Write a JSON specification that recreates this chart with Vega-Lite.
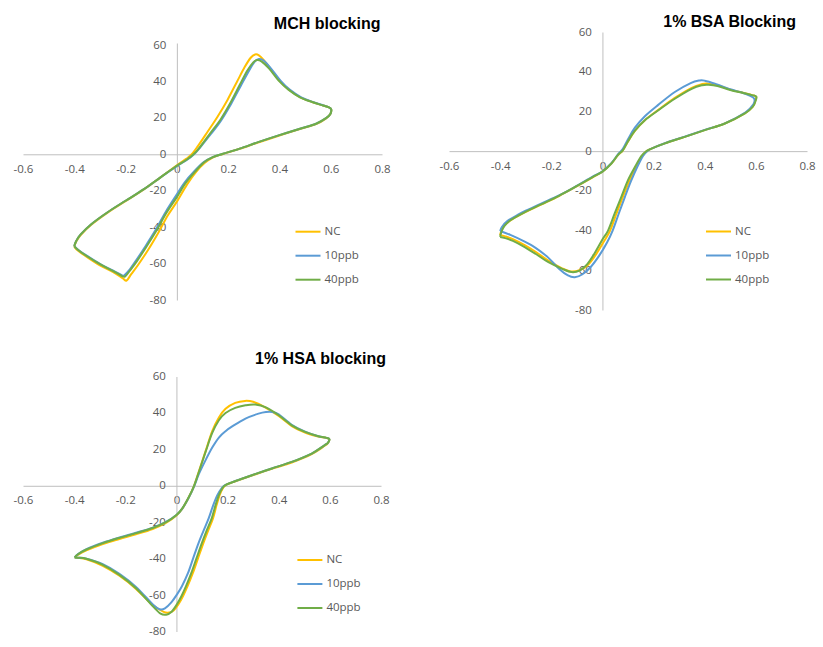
{
"$schema": "https://vega.github.io/schema/vega-lite/v6.json",
"background": "white",
"padding": {"left": 13, "top": 14, "right": 0, "bottom": 0},
"config": {
  "view": {"stroke": null},
  "axis": {"grid": false, "ticks": false, "tickSize": 0, "domainColor": "#bfbfbf", "domainWidth": 1, "labelColor": "#595959", "labelFont": "Open Sans", "labelFontSize": 11.5, "labelFlush": false, "labelOverlap": false, "labelBound": false},
  "legend": {"symbolType": "stroke", "symbolSize": 625, "symbolStrokeWidth": 2, "labelFont": "Open Sans", "labelFontSize": 11.5, "labelColor": "#595959", "labelOffset": 3, "padding": 0, "rowPadding": 5},
  "title": {"font": "Liberation Sans", "fontSize": 16, "fontWeight": "bold", "color": "#000000", "anchor": "end", "frame": "group"}
},
"datasets": {
"mch": [
{"s":"NC","k":0,"v":-0.4,"i":-50.8},{"s":"NC","k":1,"v":-0.392,"i":-47.8},{"s":"NC","k":2,"v":-0.375,"i":-44.3},{"s":"NC","k":3,"v":-0.335,"i":-38.8},{"s":"NC","k":4,"v":-0.27,"i":-32},{"s":"NC","k":5,"v":-0.2,"i":-25.7},{"s":"NC","k":6,"v":-0.13,"i":-19.4},{"s":"NC","k":7,"v":-0.065,"i":-12.8},{"s":"NC","k":8,"v":0,"i":-6},{"s":"NC","k":9,"v":0.036,"i":-2.5},{"s":"NC","k":10,"v":0.058,"i":0},{"s":"NC","k":11,"v":0.082,"i":4.5},{"s":"NC","k":12,"v":0.118,"i":12},{"s":"NC","k":13,"v":0.158,"i":20.5},{"s":"NC","k":14,"v":0.198,"i":30},{"s":"NC","k":15,"v":0.235,"i":40},{"s":"NC","k":16,"v":0.265,"i":48},{"s":"NC","k":17,"v":0.288,"i":53},{"s":"NC","k":18,"v":0.305,"i":54.8},{"s":"NC","k":19,"v":0.32,"i":54.3},{"s":"NC","k":20,"v":0.34,"i":51.5},{"s":"NC","k":21,"v":0.37,"i":46},{"s":"NC","k":22,"v":0.4,"i":40.5},{"s":"NC","k":23,"v":0.435,"i":35.7},{"s":"NC","k":24,"v":0.48,"i":31.4},{"s":"NC","k":25,"v":0.53,"i":28.6},{"s":"NC","k":26,"v":0.57,"i":26.8},{"s":"NC","k":27,"v":0.592,"i":25.8},{"s":"NC","k":28,"v":0.602,"i":24.6},{"s":"NC","k":29,"v":0.598,"i":22},{"s":"NC","k":30,"v":0.583,"i":19.8},{"s":"NC","k":31,"v":0.545,"i":16.7},{"s":"NC","k":32,"v":0.48,"i":13.8},{"s":"NC","k":33,"v":0.4,"i":10.3},{"s":"NC","k":34,"v":0.32,"i":6.6},{"s":"NC","k":35,"v":0.245,"i":3},{"s":"NC","k":36,"v":0.18,"i":0.2},{"s":"NC","k":37,"v":0.14,"i":-1.8},{"s":"NC","k":38,"v":0.108,"i":-4.8},{"s":"NC","k":39,"v":0.076,"i":-9.5},{"s":"NC","k":40,"v":0.04,"i":-16.5},{"s":"NC","k":41,"v":0,"i":-26},{"s":"NC","k":42,"v":-0.035,"i":-33.5},{"s":"NC","k":43,"v":-0.07,"i":-42.5},{"s":"NC","k":44,"v":-0.11,"i":-52},{"s":"NC","k":45,"v":-0.15,"i":-60.5},{"s":"NC","k":46,"v":-0.178,"i":-65.8},{"s":"NC","k":47,"v":-0.196,"i":-69.3},{"s":"NC","k":48,"v":-0.212,"i":-68},{"s":"NC","k":49,"v":-0.25,"i":-64.5},{"s":"NC","k":50,"v":-0.3,"i":-61},{"s":"NC","k":51,"v":-0.35,"i":-56.5},{"s":"NC","k":52,"v":-0.385,"i":-53},{"s":"NC","k":53,"v":-0.4,"i":-50.8},
{"s":"10ppb","k":0,"v":-0.4,"i":-50.4},{"s":"10ppb","k":1,"v":-0.392,"i":-47.5},{"s":"10ppb","k":2,"v":-0.375,"i":-44},{"s":"10ppb","k":3,"v":-0.335,"i":-38.5},{"s":"10ppb","k":4,"v":-0.27,"i":-31.8},{"s":"10ppb","k":5,"v":-0.2,"i":-25.5},{"s":"10ppb","k":6,"v":-0.13,"i":-19.3},{"s":"10ppb","k":7,"v":-0.065,"i":-12.8},{"s":"10ppb","k":8,"v":0,"i":-6.5},{"s":"10ppb","k":9,"v":0.04,"i":-3},{"s":"10ppb","k":10,"v":0.067,"i":0},{"s":"10ppb","k":11,"v":0.092,"i":4},{"s":"10ppb","k":12,"v":0.132,"i":11},{"s":"10ppb","k":13,"v":0.172,"i":18.5},{"s":"10ppb","k":14,"v":0.212,"i":27.8},{"s":"10ppb","k":15,"v":0.25,"i":37.8},{"s":"10ppb","k":16,"v":0.282,"i":46},{"s":"10ppb","k":17,"v":0.303,"i":50.8},{"s":"10ppb","k":18,"v":0.32,"i":52.3},{"s":"10ppb","k":19,"v":0.337,"i":51.6},{"s":"10ppb","k":20,"v":0.365,"i":47.5},{"s":"10ppb","k":21,"v":0.405,"i":40.3},{"s":"10ppb","k":22,"v":0.44,"i":35.5},{"s":"10ppb","k":23,"v":0.485,"i":31.3},{"s":"10ppb","k":24,"v":0.533,"i":28.6},{"s":"10ppb","k":25,"v":0.572,"i":26.8},{"s":"10ppb","k":26,"v":0.593,"i":25.8},{"s":"10ppb","k":27,"v":0.602,"i":24.6},{"s":"10ppb","k":28,"v":0.598,"i":22},{"s":"10ppb","k":29,"v":0.583,"i":20},{"s":"10ppb","k":30,"v":0.545,"i":16.9},{"s":"10ppb","k":31,"v":0.48,"i":14},{"s":"10ppb","k":32,"v":0.4,"i":10.5},{"s":"10ppb","k":33,"v":0.32,"i":6.8},{"s":"10ppb","k":34,"v":0.245,"i":3.1},{"s":"10ppb","k":35,"v":0.18,"i":0.3},{"s":"10ppb","k":36,"v":0.14,"i":-1.6},{"s":"10ppb","k":37,"v":0.105,"i":-4.3},{"s":"10ppb","k":38,"v":0.068,"i":-9.3},{"s":"10ppb","k":39,"v":0.03,"i":-15.5},{"s":"10ppb","k":40,"v":0,"i":-22},{"s":"10ppb","k":41,"v":-0.043,"i":-31.5},{"s":"10ppb","k":42,"v":-0.085,"i":-42},{"s":"10ppb","k":43,"v":-0.125,"i":-51},{"s":"10ppb","k":44,"v":-0.16,"i":-58.5},{"s":"10ppb","k":45,"v":-0.185,"i":-63.5},{"s":"10ppb","k":46,"v":-0.205,"i":-66.4},{"s":"10ppb","k":47,"v":-0.215,"i":-66.4},{"s":"10ppb","k":48,"v":-0.25,"i":-63.8},{"s":"10ppb","k":49,"v":-0.3,"i":-60.2},{"s":"10ppb","k":50,"v":-0.35,"i":-55.8},{"s":"10ppb","k":51,"v":-0.385,"i":-52.4},{"s":"10ppb","k":52,"v":-0.4,"i":-50.4},
{"s":"40ppb","k":0,"v":-0.4,"i":-50.4},{"s":"40ppb","k":1,"v":-0.392,"i":-47.5},{"s":"40ppb","k":2,"v":-0.375,"i":-44},{"s":"40ppb","k":3,"v":-0.335,"i":-38.5},{"s":"40ppb","k":4,"v":-0.27,"i":-31.8},{"s":"40ppb","k":5,"v":-0.2,"i":-25.5},{"s":"40ppb","k":6,"v":-0.13,"i":-19.3},{"s":"40ppb","k":7,"v":-0.065,"i":-12.8},{"s":"40ppb","k":8,"v":0,"i":-6.3},{"s":"40ppb","k":9,"v":0.038,"i":-3},{"s":"40ppb","k":10,"v":0.065,"i":0},{"s":"40ppb","k":11,"v":0.09,"i":4},{"s":"40ppb","k":12,"v":0.13,"i":11.5},{"s":"40ppb","k":13,"v":0.17,"i":19},{"s":"40ppb","k":14,"v":0.208,"i":28},{"s":"40ppb","k":15,"v":0.245,"i":38},{"s":"40ppb","k":16,"v":0.275,"i":46},{"s":"40ppb","k":17,"v":0.298,"i":50.5},{"s":"40ppb","k":18,"v":0.313,"i":51.8},{"s":"40ppb","k":19,"v":0.33,"i":51},{"s":"40ppb","k":20,"v":0.36,"i":47},{"s":"40ppb","k":21,"v":0.4,"i":40},{"s":"40ppb","k":22,"v":0.435,"i":35.5},{"s":"40ppb","k":23,"v":0.48,"i":31.3},{"s":"40ppb","k":24,"v":0.53,"i":28.6},{"s":"40ppb","k":25,"v":0.57,"i":26.8},{"s":"40ppb","k":26,"v":0.592,"i":25.8},{"s":"40ppb","k":27,"v":0.602,"i":24.6},{"s":"40ppb","k":28,"v":0.598,"i":22},{"s":"40ppb","k":29,"v":0.583,"i":20},{"s":"40ppb","k":30,"v":0.545,"i":16.9},{"s":"40ppb","k":31,"v":0.48,"i":14},{"s":"40ppb","k":32,"v":0.4,"i":10.5},{"s":"40ppb","k":33,"v":0.32,"i":6.8},{"s":"40ppb","k":34,"v":0.245,"i":3.1},{"s":"40ppb","k":35,"v":0.18,"i":0.3},{"s":"40ppb","k":36,"v":0.14,"i":-1.6},{"s":"40ppb","k":37,"v":0.105,"i":-4.5},{"s":"40ppb","k":38,"v":0.07,"i":-9.7},{"s":"40ppb","k":39,"v":0.033,"i":-16},{"s":"40ppb","k":40,"v":0,"i":-23.5},{"s":"40ppb","k":41,"v":-0.04,"i":-32},{"s":"40ppb","k":42,"v":-0.08,"i":-42},{"s":"40ppb","k":43,"v":-0.12,"i":-51},{"s":"40ppb","k":44,"v":-0.155,"i":-58.5},{"s":"40ppb","k":45,"v":-0.18,"i":-63.3},{"s":"40ppb","k":46,"v":-0.2,"i":-66.8},{"s":"40ppb","k":47,"v":-0.212,"i":-67},{"s":"40ppb","k":48,"v":-0.25,"i":-64},{"s":"40ppb","k":49,"v":-0.3,"i":-60.3},{"s":"40ppb","k":50,"v":-0.35,"i":-56},{"s":"40ppb","k":51,"v":-0.385,"i":-52.5},{"s":"40ppb","k":52,"v":-0.4,"i":-50.4}
],
"bsa": [
{"s":"NC","k":0,"v":-0.4,"i":-42.3},{"s":"NC","k":1,"v":-0.395,"i":-40},{"s":"NC","k":2,"v":-0.382,"i":-37.2},{"s":"NC","k":3,"v":-0.355,"i":-34.5},{"s":"NC","k":4,"v":-0.3,"i":-30.6},{"s":"NC","k":5,"v":-0.24,"i":-26.9},{"s":"NC","k":6,"v":-0.17,"i":-22.6},{"s":"NC","k":7,"v":-0.11,"i":-18.4},{"s":"NC","k":8,"v":-0.04,"i":-13.3},{"s":"NC","k":9,"v":0,"i":-10.4},{"s":"NC","k":10,"v":0.035,"i":-6.3},{"s":"NC","k":11,"v":0.06,"i":-2.1},{"s":"NC","k":12,"v":0.08,"i":0.4},{"s":"NC","k":13,"v":0.1,"i":4.9},{"s":"NC","k":14,"v":0.127,"i":10.2},{"s":"NC","k":15,"v":0.166,"i":15.6},{"s":"NC","k":16,"v":0.22,"i":20.9},{"s":"NC","k":17,"v":0.283,"i":26.8},{"s":"NC","k":18,"v":0.349,"i":31.9},{"s":"NC","k":19,"v":0.39,"i":33.8},{"s":"NC","k":20,"v":0.412,"i":34},{"s":"NC","k":21,"v":0.45,"i":33.2},{"s":"NC","k":22,"v":0.5,"i":31},{"s":"NC","k":23,"v":0.55,"i":29.4},{"s":"NC","k":24,"v":0.585,"i":28.2},{"s":"NC","k":25,"v":0.601,"i":27.4},{"s":"NC","k":26,"v":0.597,"i":25},{"s":"NC","k":27,"v":0.588,"i":22.4},{"s":"NC","k":28,"v":0.557,"i":19},{"s":"NC","k":29,"v":0.479,"i":13.9},{"s":"NC","k":30,"v":0.4,"i":10.6},{"s":"NC","k":31,"v":0.322,"i":7.2},{"s":"NC","k":32,"v":0.244,"i":3.9},{"s":"NC","k":33,"v":0.192,"i":1.3},{"s":"NC","k":34,"v":0.173,"i":0},{"s":"NC","k":35,"v":0.155,"i":-2.5},{"s":"NC","k":36,"v":0.132,"i":-8},{"s":"NC","k":37,"v":0.106,"i":-14.8},{"s":"NC","k":38,"v":0.08,"i":-23},{"s":"NC","k":39,"v":0.055,"i":-31.4},{"s":"NC","k":40,"v":0.03,"i":-40},{"s":"NC","k":41,"v":0.008,"i":-45},{"s":"NC","k":42,"v":-0.025,"i":-52},{"s":"NC","k":43,"v":-0.058,"i":-57.5},{"s":"NC","k":44,"v":-0.09,"i":-60},{"s":"NC","k":45,"v":-0.125,"i":-60.6},{"s":"NC","k":46,"v":-0.158,"i":-59},{"s":"NC","k":47,"v":-0.213,"i":-55},{"s":"NC","k":48,"v":-0.26,"i":-50.8},{"s":"NC","k":49,"v":-0.304,"i":-47.3},{"s":"NC","k":50,"v":-0.35,"i":-44.3},{"s":"NC","k":51,"v":-0.38,"i":-42.9},{"s":"NC","k":52,"v":-0.4,"i":-42.3},
{"s":"10ppb","k":0,"v":-0.4,"i":-40.2},{"s":"10ppb","k":1,"v":-0.392,"i":-38},{"s":"10ppb","k":2,"v":-0.372,"i":-35.2},{"s":"10ppb","k":3,"v":-0.33,"i":-32},{"s":"10ppb","k":4,"v":-0.3,"i":-30},{"s":"10ppb","k":5,"v":-0.24,"i":-26.4},{"s":"10ppb","k":6,"v":-0.17,"i":-22.3},{"s":"10ppb","k":7,"v":-0.11,"i":-18.2},{"s":"10ppb","k":8,"v":-0.04,"i":-13},{"s":"10ppb","k":9,"v":0,"i":-10.2},{"s":"10ppb","k":10,"v":0.035,"i":-6},{"s":"10ppb","k":11,"v":0.06,"i":-1.8},{"s":"10ppb","k":12,"v":0.08,"i":1.2},{"s":"10ppb","k":13,"v":0.1,"i":6},{"s":"10ppb","k":14,"v":0.127,"i":11.8},{"s":"10ppb","k":15,"v":0.166,"i":17.6},{"s":"10ppb","k":16,"v":0.218,"i":23.3},{"s":"10ppb","k":17,"v":0.283,"i":29.8},{"s":"10ppb","k":18,"v":0.345,"i":34.3},{"s":"10ppb","k":19,"v":0.38,"i":35.6},{"s":"10ppb","k":20,"v":0.4,"i":35.5},{"s":"10ppb","k":21,"v":0.44,"i":34},{"s":"10ppb","k":22,"v":0.5,"i":31.2},{"s":"10ppb","k":23,"v":0.545,"i":29.5},{"s":"10ppb","k":24,"v":0.578,"i":27.8},{"s":"10ppb","k":25,"v":0.594,"i":26.3},{"s":"10ppb","k":26,"v":0.59,"i":23.5},{"s":"10ppb","k":27,"v":0.56,"i":19.6},{"s":"10ppb","k":28,"v":0.479,"i":14},{"s":"10ppb","k":29,"v":0.4,"i":10.7},{"s":"10ppb","k":30,"v":0.322,"i":7.3},{"s":"10ppb","k":31,"v":0.244,"i":4},{"s":"10ppb","k":32,"v":0.194,"i":1.4},{"s":"10ppb","k":33,"v":0.175,"i":0},{"s":"10ppb","k":34,"v":0.158,"i":-2.5},{"s":"10ppb","k":35,"v":0.136,"i":-8},{"s":"10ppb","k":36,"v":0.112,"i":-15},{"s":"10ppb","k":37,"v":0.088,"i":-23},{"s":"10ppb","k":38,"v":0.064,"i":-31.4},{"s":"10ppb","k":39,"v":0.04,"i":-40},{"s":"10ppb","k":40,"v":0.018,"i":-46},{"s":"10ppb","k":41,"v":-0.012,"i":-52.5},{"s":"10ppb","k":42,"v":-0.045,"i":-58.2},{"s":"10ppb","k":43,"v":-0.078,"i":-62},{"s":"10ppb","k":44,"v":-0.108,"i":-63.5},{"s":"10ppb","k":45,"v":-0.135,"i":-62.6},{"s":"10ppb","k":46,"v":-0.17,"i":-59.2},{"s":"10ppb","k":47,"v":-0.213,"i":-53.5},{"s":"10ppb","k":48,"v":-0.26,"i":-48.8},{"s":"10ppb","k":49,"v":-0.31,"i":-45.2},{"s":"10ppb","k":50,"v":-0.36,"i":-42.2},{"s":"10ppb","k":51,"v":-0.4,"i":-40.2},
{"s":"40ppb","k":0,"v":-0.4,"i":-43.2},{"s":"40ppb","k":1,"v":-0.396,"i":-41},{"s":"40ppb","k":2,"v":-0.385,"i":-38},{"s":"40ppb","k":3,"v":-0.36,"i":-34.8},{"s":"40ppb","k":4,"v":-0.3,"i":-30.5},{"s":"40ppb","k":5,"v":-0.24,"i":-26.8},{"s":"40ppb","k":6,"v":-0.17,"i":-22.5},{"s":"40ppb","k":7,"v":-0.11,"i":-18.3},{"s":"40ppb","k":8,"v":-0.04,"i":-13.2},{"s":"40ppb","k":9,"v":0,"i":-10.3},{"s":"40ppb","k":10,"v":0.035,"i":-6.2},{"s":"40ppb","k":11,"v":0.06,"i":-2},{"s":"40ppb","k":12,"v":0.08,"i":0.5},{"s":"40ppb","k":13,"v":0.1,"i":5},{"s":"40ppb","k":14,"v":0.127,"i":10.3},{"s":"40ppb","k":15,"v":0.166,"i":15.6},{"s":"40ppb","k":16,"v":0.22,"i":20.7},{"s":"40ppb","k":17,"v":0.283,"i":26.4},{"s":"40ppb","k":18,"v":0.349,"i":31.4},{"s":"40ppb","k":19,"v":0.39,"i":33.2},{"s":"40ppb","k":20,"v":0.415,"i":33.4},{"s":"40ppb","k":21,"v":0.45,"i":32.8},{"s":"40ppb","k":22,"v":0.5,"i":30.8},{"s":"40ppb","k":23,"v":0.55,"i":29.3},{"s":"40ppb","k":24,"v":0.585,"i":28.2},{"s":"40ppb","k":25,"v":0.602,"i":27.4},{"s":"40ppb","k":26,"v":0.598,"i":25},{"s":"40ppb","k":27,"v":0.588,"i":22.4},{"s":"40ppb","k":28,"v":0.557,"i":19},{"s":"40ppb","k":29,"v":0.479,"i":13.9},{"s":"40ppb","k":30,"v":0.4,"i":10.6},{"s":"40ppb","k":31,"v":0.322,"i":7.2},{"s":"40ppb","k":32,"v":0.244,"i":3.9},{"s":"40ppb","k":33,"v":0.192,"i":1.3},{"s":"40ppb","k":34,"v":0.172,"i":0},{"s":"40ppb","k":35,"v":0.152,"i":-2.5},{"s":"40ppb","k":36,"v":0.127,"i":-8},{"s":"40ppb","k":37,"v":0.1,"i":-14.6},{"s":"40ppb","k":38,"v":0.074,"i":-23},{"s":"40ppb","k":39,"v":0.048,"i":-31.4},{"s":"40ppb","k":40,"v":0.022,"i":-40},{"s":"40ppb","k":41,"v":0,"i":-44.5},{"s":"40ppb","k":42,"v":-0.031,"i":-51.5},{"s":"40ppb","k":43,"v":-0.06,"i":-57},{"s":"40ppb","k":44,"v":-0.09,"i":-60.2},{"s":"40ppb","k":45,"v":-0.121,"i":-60.9},{"s":"40ppb","k":46,"v":-0.155,"i":-59.4},{"s":"40ppb","k":47,"v":-0.213,"i":-55.8},{"s":"40ppb","k":48,"v":-0.26,"i":-51.8},{"s":"40ppb","k":49,"v":-0.304,"i":-48.3},{"s":"40ppb","k":50,"v":-0.35,"i":-45.2},{"s":"40ppb","k":51,"v":-0.38,"i":-43.8},{"s":"40ppb","k":52,"v":-0.4,"i":-43.2}
],
"hsa": [
{"s":"NC","k":0,"v":-0.398,"i":-39.4},{"s":"NC","k":1,"v":-0.385,"i":-37.9},{"s":"NC","k":2,"v":-0.352,"i":-35.5},{"s":"NC","k":3,"v":-0.288,"i":-32},{"s":"NC","k":4,"v":-0.223,"i":-29.2},{"s":"NC","k":5,"v":-0.158,"i":-26.6},{"s":"NC","k":6,"v":-0.093,"i":-23.7},{"s":"NC","k":7,"v":-0.041,"i":-20.4},{"s":"NC","k":8,"v":0,"i":-16.3},{"s":"NC","k":9,"v":0.023,"i":-12.6},{"s":"NC","k":10,"v":0.049,"i":-6.2},{"s":"NC","k":11,"v":0.069,"i":0},{"s":"NC","k":12,"v":0.088,"i":8},{"s":"NC","k":13,"v":0.114,"i":19},{"s":"NC","k":14,"v":0.14,"i":30},{"s":"NC","k":15,"v":0.166,"i":37.5},{"s":"NC","k":16,"v":0.192,"i":42.3},{"s":"NC","k":17,"v":0.23,"i":45.5},{"s":"NC","k":18,"v":0.268,"i":46.6},{"s":"NC","k":19,"v":0.3,"i":46.1},{"s":"NC","k":20,"v":0.34,"i":43.6},{"s":"NC","k":21,"v":0.4,"i":38.3},{"s":"NC","k":22,"v":0.451,"i":32.8},{"s":"NC","k":23,"v":0.503,"i":29.2},{"s":"NC","k":24,"v":0.555,"i":27},{"s":"NC","k":25,"v":0.587,"i":26.2},{"s":"NC","k":26,"v":0.598,"i":25.5},{"s":"NC","k":27,"v":0.592,"i":23.3},{"s":"NC","k":28,"v":0.58,"i":22},{"s":"NC","k":29,"v":0.529,"i":17.4},{"s":"NC","k":30,"v":0.451,"i":12.8},{"s":"NC","k":31,"v":0.373,"i":9.3},{"s":"NC","k":32,"v":0.295,"i":5.6},{"s":"NC","k":33,"v":0.231,"i":2.5},{"s":"NC","k":34,"v":0.193,"i":0.4},{"s":"NC","k":35,"v":0.181,"i":-1.5},{"s":"NC","k":36,"v":0.169,"i":-5.1},{"s":"NC","k":37,"v":0.157,"i":-10.6},{"s":"NC","k":38,"v":0.143,"i":-17.9},{"s":"NC","k":39,"v":0.123,"i":-25},{"s":"NC","k":40,"v":0.104,"i":-32},{"s":"NC","k":41,"v":0.084,"i":-40},{"s":"NC","k":42,"v":0.064,"i":-48},{"s":"NC","k":43,"v":0.044,"i":-55},{"s":"NC","k":44,"v":0.026,"i":-60.5},{"s":"NC","k":45,"v":0.008,"i":-65},{"s":"NC","k":46,"v":-0.01,"i":-68.3},{"s":"NC","k":47,"v":-0.028,"i":-69.6},{"s":"NC","k":48,"v":-0.05,"i":-69.2},{"s":"NC","k":49,"v":-0.093,"i":-65.5},{"s":"NC","k":50,"v":-0.158,"i":-56.6},{"s":"NC","k":51,"v":-0.223,"i":-49.4},{"s":"NC","k":52,"v":-0.288,"i":-43.9},{"s":"NC","k":53,"v":-0.352,"i":-40.4},{"s":"NC","k":54,"v":-0.385,"i":-39.6},{"s":"NC","k":55,"v":-0.398,"i":-39.4},
{"s":"10ppb","k":0,"v":-0.398,"i":-39.4},{"s":"10ppb","k":1,"v":-0.385,"i":-37.5},{"s":"10ppb","k":2,"v":-0.352,"i":-34.8},{"s":"10ppb","k":3,"v":-0.288,"i":-31.3},{"s":"10ppb","k":4,"v":-0.223,"i":-28.4},{"s":"10ppb","k":5,"v":-0.158,"i":-25.8},{"s":"10ppb","k":6,"v":-0.093,"i":-23},{"s":"10ppb","k":7,"v":-0.041,"i":-19.8},{"s":"10ppb","k":8,"v":0,"i":-16},{"s":"10ppb","k":9,"v":0.023,"i":-12.5},{"s":"10ppb","k":10,"v":0.049,"i":-6.3},{"s":"10ppb","k":11,"v":0.07,"i":0},{"s":"10ppb","k":12,"v":0.088,"i":6.5},{"s":"10ppb","k":13,"v":0.114,"i":14.1},{"s":"10ppb","k":14,"v":0.14,"i":21},{"s":"10ppb","k":15,"v":0.166,"i":26.5},{"s":"10ppb","k":16,"v":0.192,"i":30},{"s":"10ppb","k":17,"v":0.218,"i":32.6},{"s":"10ppb","k":18,"v":0.27,"i":36.9},{"s":"10ppb","k":19,"v":0.321,"i":39.6},{"s":"10ppb","k":20,"v":0.35,"i":40.5},{"s":"10ppb","k":21,"v":0.375,"i":40.5},{"s":"10ppb","k":22,"v":0.4,"i":39.2},{"s":"10ppb","k":23,"v":0.451,"i":33.5},{"s":"10ppb","k":24,"v":0.503,"i":29.7},{"s":"10ppb","k":25,"v":0.555,"i":27.2},{"s":"10ppb","k":26,"v":0.587,"i":26.3},{"s":"10ppb","k":27,"v":0.598,"i":25.5},{"s":"10ppb","k":28,"v":0.592,"i":23.5},{"s":"10ppb","k":29,"v":0.58,"i":22.3},{"s":"10ppb","k":30,"v":0.529,"i":17.7},{"s":"10ppb","k":31,"v":0.451,"i":13.1},{"s":"10ppb","k":32,"v":0.373,"i":9.5},{"s":"10ppb","k":33,"v":0.295,"i":5.8},{"s":"10ppb","k":34,"v":0.231,"i":2.6},{"s":"10ppb","k":35,"v":0.19,"i":0.4},{"s":"10ppb","k":36,"v":0.176,"i":-1.5},{"s":"10ppb","k":37,"v":0.16,"i":-5.1},{"s":"10ppb","k":38,"v":0.144,"i":-10.6},{"s":"10ppb","k":39,"v":0.126,"i":-17.9},{"s":"10ppb","k":40,"v":0.105,"i":-25},{"s":"10ppb","k":41,"v":0.085,"i":-32},{"s":"10ppb","k":42,"v":0.065,"i":-40},{"s":"10ppb","k":43,"v":0.045,"i":-48},{"s":"10ppb","k":44,"v":0.022,"i":-55},{"s":"10ppb","k":45,"v":0.003,"i":-59.5},{"s":"10ppb","k":46,"v":-0.02,"i":-64},{"s":"10ppb","k":47,"v":-0.045,"i":-67.3},{"s":"10ppb","k":48,"v":-0.065,"i":-67.8},{"s":"10ppb","k":49,"v":-0.09,"i":-65.5},{"s":"10ppb","k":50,"v":-0.158,"i":-55.5},{"s":"10ppb","k":51,"v":-0.223,"i":-48.3},{"s":"10ppb","k":52,"v":-0.288,"i":-43},{"s":"10ppb","k":53,"v":-0.352,"i":-40},{"s":"10ppb","k":54,"v":-0.385,"i":-39.5},{"s":"10ppb","k":55,"v":-0.398,"i":-39.4},
{"s":"40ppb","k":0,"v":-0.398,"i":-39.4},{"s":"40ppb","k":1,"v":-0.385,"i":-37.6},{"s":"40ppb","k":2,"v":-0.352,"i":-35},{"s":"40ppb","k":3,"v":-0.288,"i":-31.5},{"s":"40ppb","k":4,"v":-0.223,"i":-28.6},{"s":"40ppb","k":5,"v":-0.158,"i":-26},{"s":"40ppb","k":6,"v":-0.093,"i":-23.2},{"s":"40ppb","k":7,"v":-0.041,"i":-20},{"s":"40ppb","k":8,"v":0,"i":-16},{"s":"40ppb","k":9,"v":0.023,"i":-12.4},{"s":"40ppb","k":10,"v":0.049,"i":-6},{"s":"40ppb","k":11,"v":0.069,"i":0},{"s":"40ppb","k":12,"v":0.088,"i":7.7},{"s":"40ppb","k":13,"v":0.114,"i":18.6},{"s":"40ppb","k":14,"v":0.14,"i":29},{"s":"40ppb","k":15,"v":0.166,"i":36},{"s":"40ppb","k":16,"v":0.192,"i":40},{"s":"40ppb","k":17,"v":0.23,"i":42.8},{"s":"40ppb","k":18,"v":0.27,"i":44.2},{"s":"40ppb","k":19,"v":0.308,"i":44.6},{"s":"40ppb","k":20,"v":0.35,"i":43},{"s":"40ppb","k":21,"v":0.4,"i":38.7},{"s":"40ppb","k":22,"v":0.451,"i":33.2},{"s":"40ppb","k":23,"v":0.503,"i":29.6},{"s":"40ppb","k":24,"v":0.555,"i":27.2},{"s":"40ppb","k":25,"v":0.587,"i":26.3},{"s":"40ppb","k":26,"v":0.598,"i":25.5},{"s":"40ppb","k":27,"v":0.592,"i":23.5},{"s":"40ppb","k":28,"v":0.58,"i":22.3},{"s":"40ppb","k":29,"v":0.529,"i":17.7},{"s":"40ppb","k":30,"v":0.451,"i":13.1},{"s":"40ppb","k":31,"v":0.373,"i":9.5},{"s":"40ppb","k":32,"v":0.295,"i":5.8},{"s":"40ppb","k":33,"v":0.231,"i":2.6},{"s":"40ppb","k":34,"v":0.192,"i":0.4},{"s":"40ppb","k":35,"v":0.179,"i":-1.5},{"s":"40ppb","k":36,"v":0.166,"i":-5.1},{"s":"40ppb","k":37,"v":0.153,"i":-10.6},{"s":"40ppb","k":38,"v":0.138,"i":-17.9},{"s":"40ppb","k":39,"v":0.117,"i":-25},{"s":"40ppb","k":40,"v":0.098,"i":-32},{"s":"40ppb","k":41,"v":0.078,"i":-40},{"s":"40ppb","k":42,"v":0.058,"i":-48},{"s":"40ppb","k":43,"v":0.038,"i":-55},{"s":"40ppb","k":44,"v":0.02,"i":-60.5},{"s":"40ppb","k":45,"v":0,"i":-65.5},{"s":"40ppb","k":46,"v":-0.02,"i":-69.3},{"s":"40ppb","k":47,"v":-0.04,"i":-70.8},{"s":"40ppb","k":48,"v":-0.062,"i":-70.2},{"s":"40ppb","k":49,"v":-0.093,"i":-66},{"s":"40ppb","k":50,"v":-0.158,"i":-56.2},{"s":"40ppb","k":51,"v":-0.223,"i":-48.9},{"s":"40ppb","k":52,"v":-0.288,"i":-43.4},{"s":"40ppb","k":53,"v":-0.352,"i":-40.1},{"s":"40ppb","k":54,"v":-0.385,"i":-39.5},{"s":"40ppb","k":55,"v":-0.398,"i":-39.4}
]
},
"vconcat": [
 {
  "hconcat": [
   {
    "title": {"text": "MCH blocking", "offset": 0, "dx": -1.5},
    "width": 359, "height": 268,
    "data": {"name": "mch"},
    "mark": {"type": "line", "interpolate": "cardinal", "strokeWidth": 2},
    "encoding": {
      "x": {"field": "v", "type": "quantitative", "scale": {"domain": [-0.6, 0.8], "nice": false, "zero": false}, "axis": {"title": null, "offset": -145.71, "values": [-0.6,-0.4,-0.2,0,0.2,0.4,0.6,0.8], "labelExpr": "datum.value + ''", "labelPadding": 9}},
      "y": {"field": "i", "type": "quantitative", "scale": {"domain": [-80, 67.14], "nice": false, "zero": false}, "axis": {"title": null, "offset": -153.86, "values": [-80,-60,-40,-20,0,20,40,60], "labelExpr": "datum.value + ''", "labelPadding": 11, "domainDash": [257, 60]}},
      "color": {"field": "s", "type": "nominal", "scale": {"domain": ["NC","10ppb","40ppb"], "range": ["#FFC000","#5B9BD5","#70AD47"]}, "legend": {"title": null, "orient": "none", "legendX": 271.5, "legendY": 186.2}},
      "order": {"field": "k", "type": "quantitative"}
    }
   },
   {
    "title": {"text": "1% BSA Blocking", "offset": -4, "dx": -11},
    "width": 358, "height": 278,
    "data": {"name": "bsa"},
    "mark": {"type": "line", "interpolate": "cardinal", "strokeWidth": 2},
    "encoding": {
      "x": {"field": "v", "type": "quantitative", "scale": {"domain": [-0.6, 0.8], "nice": false, "zero": false}, "axis": {"title": null, "offset": -158.86, "values": [-0.6,-0.4,-0.2,0,0.2,0.4,0.6,0.8], "labelExpr": "datum.value + ''", "labelPadding": 9}},
      "y": {"field": "i", "type": "quantitative", "scale": {"domain": [-80, 60], "nice": false, "zero": false}, "axis": {"title": null, "offset": -153.43, "values": [-80,-60,-40,-20,0,20,40,60], "labelExpr": "datum.value + ''", "labelPadding": 11}},
      "color": {"field": "s", "type": "nominal", "scale": {"domain": ["NC","10ppb","40ppb"], "range": ["#FFC000","#5B9BD5","#70AD47"]}, "legend": {"title": null, "orient": "none", "legendX": 256, "legendY": 186}},
      "order": {"field": "k", "type": "quantitative"}
    }
   }
  ],
  "spacing": 48,
  "resolve": {"scale": {"color": "independent", "x": "independent", "y": "independent"}, "legend": {"color": "independent"}}
 },
 {
  "title": {"text": "1% HSA blocking", "offset": 4, "dx": 5},
  "width": 358, "height": 255,
  "data": {"name": "hsa"},
  "mark": {"type": "line", "interpolate": "cardinal", "strokeWidth": 2},
  "encoding": {
    "x": {"field": "v", "type": "quantitative", "scale": {"domain": [-0.6, 0.8], "nice": false, "zero": false}, "axis": {"title": null, "offset": -145.71, "values": [-0.6,-0.4,-0.2,0,0.2,0.4,0.6,0.8], "labelExpr": "datum.value + ''", "labelPadding": 9}},
    "y": {"field": "i", "type": "quantitative", "scale": {"domain": [-80, 60], "nice": false, "zero": false}, "axis": {"title": null, "offset": -153.43, "values": [-80,-60,-40,-20,0,20,40,60], "labelExpr": "datum.value + ''", "labelPadding": 11}},
    "color": {"field": "s", "type": "nominal", "scale": {"domain": ["NC","10ppb","40ppb"], "range": ["#FFC000","#5B9BD5","#70AD47"]}, "legend": {"title": null, "orient": "none", "legendX": 273.4, "legendY": 170}},
    "order": {"field": "k", "type": "quantitative"}
  }
 }
],
"spacing": 34.5,
"resolve": {"scale": {"color": "independent", "x": "independent", "y": "independent"}, "legend": {"color": "independent"}}
}
